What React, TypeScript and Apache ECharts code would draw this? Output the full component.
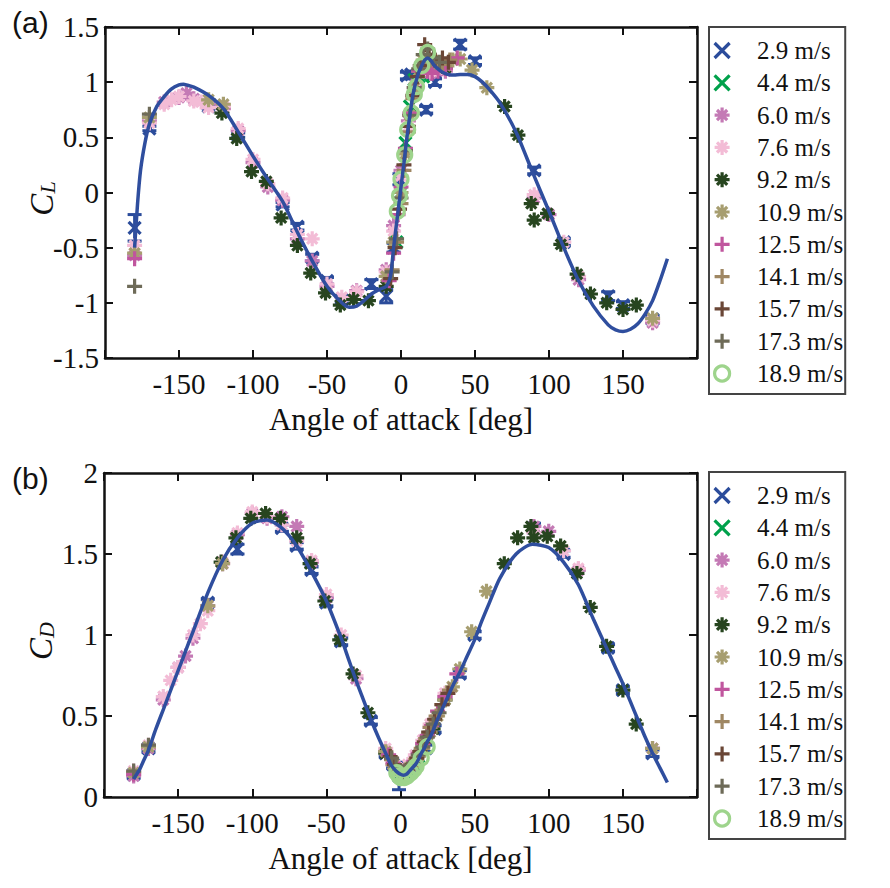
import React, { useEffect, useRef } from 'react';
import * as echarts from 'echarts';

// ---------- categories / legend ----------
const speeds = ['2.9 m/s', '4.4 m/s', '6.0 m/s', '7.6 m/s', '9.2 m/s', '10.9 m/s', '12.5 m/s', '14.1 m/s', '15.7 m/s', '17.3 m/s', '18.9 m/s'];
const colors = ['#2B4C9B', '#00A14B', '#C47AB5', '#F3BCD6', '#27451F', '#A79E70', '#C0569E', '#9F8763', '#6A4636', '#6E6B58', '#9ED48C'];
const SYM_X = 'path://M0,0L10,10M10,0L0,10';
const SYM_AST = 'path://M5,0L5,10M0,5L10,5M1.6,1.6L8.4,8.4M8.4,1.6L1.6,8.4';
const SYM_PLUS = 'path://M5,0L5,10M0,5L10,5';
const symbols = [SYM_X, SYM_X, SYM_AST, SYM_AST, SYM_AST, SYM_AST, SYM_PLUS, SYM_PLUS, SYM_PLUS, SYM_PLUS, 'circle'];

// ---------- tick labels ----------
const xTicks = [-150, -100, -50, 0, 50, 100, 150];
const clTicks = [-1.5, -1, -0.5, 0, 0.5, 1, 1.5];
const cdTicks = [0, 0.5, 1, 1.5, 2];

// ---------- data: 2.9 m/s ----------
const aoa29 = [-180, -170, -130, -110, -80, -70, -60, -50, -40, -20, -10, -5, -1, 4, 7, 17, 23, 40, 50, 90, 110, 140, 150, 170];
const cl29 = [-0.32, 0.58, 0.78, 0.52, -0.11, -0.31, -0.59, -0.8, -0.97, -0.83, -0.94, -0.5, 0.12, 1.06, 1.07, 0.75, 1.0, 1.34, 1.19, 0.2, -0.45, -0.94, -1.02, -1.15];
const cl29Err = [0.12, 0.02, 0.02, 0.02, 0.02, 0.03, 0.03, 0.03, 0.03, 0.04, 0.06, 0.04, 0.05, 0.03, 0.03, 0.03, 0.03, 0.04, 0.03, 0.03, 0.03, 0.04, 0.03, 0.03];
const cd29 = [0.14, 0.3, 1.2, 1.53, 1.66, 1.55, 1.4, 1.2, 0.96, 0.47, 0.27, 0.2, 0.13, 0.16, 0.17, 0.3, 0.42, 0.76, 1.0, 1.66, 1.5, 0.92, 0.66, 0.27];
const cd29Err = [0.02, 0.02, 0.02, 0.03, 0.02, 0.02, 0.02, 0.02, 0.02, 0.02, 0.02, 0.02, 0.085, 0.02, 0.02, 0.02, 0.02, 0.02, 0.02, 0.03, 0.02, 0.02, 0.02, 0.02];

// ---------- 4.4 m/s ----------
const aoa44 = [-3, 0, 3, 6, 9, 12, 15];
const cl44 = [-0.45, 0.0, 0.45, 0.78, 1.02, 1.05, 1.05];
const cd44 = [0.16, 0.14, 0.15, 0.17, 0.2, 0.25, 0.3];

// ---------- 6.0 m/s ----------
const aoa60 = [-180, -170, -160, -150, -145, -140, -130, -120, -110, -100, -90, -80, -70, -60, -50, -30, -10, -5, 0, 5, 10, 15, 20, 30, 90, 100, 120, 170];
const cl60 = [-0.57, 0.65, 0.82, 0.86, 0.9, 0.85, 0.8, 0.76, 0.56, 0.27, 0.05, -0.07, -0.42, -0.62, -0.85, -0.89, -0.7, -0.3, 0.2, 0.65, 0.98, 1.12, 1.08, 1.1, -0.05, -0.2, -0.79, -1.18];
const cd60 = [0.13, 0.3, 0.6, 0.8, 0.87, 0.98, 1.18, 1.44, 1.62, 1.75, 1.72, 1.73, 1.67, 1.45, 1.23, 0.73, 0.28, 0.2, 0.16, 0.18, 0.24, 0.33, 0.43, 0.62, 1.67, 1.64, 1.4, 0.3];

// ---------- 7.6 m/s ----------
const aoa76 = [-180, -170, -160, -155, -150, -140, -135, -130, -120, -110, -100, -90, -80, -70, -60, -50, -40, -30, -10, -5, 0, 5, 10, 15, 20, 30, 90, 110, 120, 170];
const cl76 = [-0.48, 0.63, 0.8, 0.84, 0.87, 0.83, 0.82, 0.77, 0.78, 0.58, 0.3, 0.08, -0.05, -0.38, -0.42, -0.83, -0.95, -0.9, -0.72, -0.35, 0.15, 0.6, 0.95, 1.1, 1.1, 1.12, -0.02, -0.45, -0.76, -1.16];
const cd76 = [0.16, 0.32, 0.62, 0.72, 0.8, 1.0, 1.07, 1.15, 1.45, 1.63, 1.76, 1.73, 1.68, 1.58, 1.46, 1.25, 1.0, 0.75, 0.3, 0.22, 0.17, 0.2, 0.26, 0.35, 0.45, 0.64, 1.63, 1.52, 1.41, 0.3];

// ---------- 9.2 m/s ----------
const aoa92 = [-121, -111, -101, -91, -81, -70, -61, -51, -41, -32, -22, -10, 22, 30, 70, 79, 88, 90, 99, 108, 119, 128, 139, 150, 159];
const cl92 = [0.72, 0.49, 0.19, 0.1, -0.23, -0.48, -0.73, -0.91, -1.02, -0.97, -0.98, -0.85, 1.15, 1.13, 0.78, 0.52, -0.1, -0.25, -0.19, -0.47, -0.74, -0.92, -1.0, -1.06, -1.02];
const cd92 = [1.45, 1.6, 1.72, 1.75, 1.72, 1.6, 1.44, 1.21, 0.97, 0.76, 0.52, 0.27, 0.42, 0.6, 1.44, 1.6, 1.67, 1.6, 1.61, 1.55, 1.38, 1.17, 0.93, 0.66, 0.45];

// ---------- 10.9 m/s ----------
const aoa109 = [-180, -170, -130, -120, -10, -5, 0, 3, 6, 9, 12, 15, 20, 25, 30, 35, 40, 48, 58, 170];
const cl109 = [-0.55, 0.68, 0.84, 0.8, -0.76, -0.45, 0.0, 0.35, 0.7, 0.95, 1.1, 1.2, 1.18, 1.15, 1.15, 1.2, 1.21, 1.11, 0.95, -1.14];
const cd109 = [0.15, 0.31, 1.18, 1.44, 0.28, 0.2, 0.16, 0.16, 0.18, 0.21, 0.25, 0.3, 0.4, 0.5, 0.6, 0.68, 0.79, 1.02, 1.27, 0.3];

// ---------- 12.5 m/s ----------
const aoa125 = [-180, -8, -5, -2, 0, 3, 6, 9, 12, 15, 18, 21, 25, 30, 38];
const cl125 = [-0.6, -0.8, -0.55, -0.2, 0.05, 0.4, 0.72, 0.95, 1.1, 1.12, 1.1, 1.08, 1.1, 1.12, 1.22];
const cd125 = [0.14, 0.26, 0.21, 0.17, 0.15, 0.16, 0.18, 0.22, 0.27, 0.33, 0.38, 0.44, 0.53, 0.62, 0.76];

// ---------- 14.1 m/s ----------
const aoa141 = [-6, -3, 0, 2, 5, 8, 11, 14, 17, 20, 24, 28, 33];
const cl141 = [-0.7, -0.45, -0.1, 0.2, 0.55, 0.85, 1.05, 1.15, 1.2, 1.2, 1.18, 1.16, 1.2];
const cd141 = [0.23, 0.19, 0.16, 0.15, 0.17, 0.2, 0.24, 0.3, 0.36, 0.43, 0.5, 0.57, 0.66];

// ---------- 15.7 m/s ----------
const aoa157 = [-7, -4, -1, 2, 5, 8, 11, 13, 16, 19, 23, 28, 32];
const cl157 = [-0.78, -0.5, -0.15, 0.25, 0.6, 0.88, 1.05, 1.15, 1.34, 1.25, 1.2, 1.22, 1.18];
const cd157 = [0.25, 0.2, 0.16, 0.15, 0.17, 0.2, 0.24, 0.28, 0.34, 0.4, 0.48, 0.57, 0.64];

// ---------- 17.3 m/s ----------
const aoa173 = [-180, -170, -6, -3, 0, 3, 6, 9, 12, 15, 18, 22, 26];
const cl173 = [-0.85, 0.71, -0.72, -0.42, -0.05, 0.38, 0.7, 0.95, 1.12, 1.25, 1.3, 1.22, 1.18];
const cd173 = [0.16, 0.32, 0.24, 0.19, 0.16, 0.16, 0.18, 0.21, 0.26, 0.31, 0.37, 0.45, 0.52];

// ---------- 18.9 m/s ----------
const aoa189 = [-2.5, -1, 0, 2.5, 4.5, 7, 9, 10.5, 14, 18];
const cl189 = [-0.17, -0.03, 0.12, 0.34, 0.57, 0.72, 0.89, 0.96, 1.15, 1.27];
const cd189 = [0.15, 0.13, 0.12, 0.12, 0.13, 0.15, 0.17, 0.19, 0.24, 0.31];

// ---------- fitted curve ----------
const fitAoa = [-180, -178, -176, -173, -170, -165, -160, -155, -150, -147,
  -145, -140, -130, -120, -110, -100, -90, -80, -70, -60,
  -50, -40, -35, -30, -25, -20, -15, -10, -7, -5,
  -3, 0, 2, 4, 6, 8, 10, 12, 14, 16,
  18, 20, 22, 25, 28, 32, 36, 40, 45, 50,
  55, 60, 67, 78, 89, 100, 110, 120, 130, 140,
  145, 150, 155, 160, 165, 170, 175, 180];
const fitCL = [-0.5, -0.1, 0.2, 0.45, 0.62, 0.78, 0.87, 0.94, 0.975, 0.98,
  0.975, 0.955, 0.88, 0.76, 0.55, 0.33, 0.12, -0.08, -0.36, -0.62,
  -0.85, -1.0, -1.04, -1.03, -0.98, -0.92, -0.88, -0.85, -0.75, -0.5,
  -0.28, 0.05, 0.27, 0.5, 0.7, 0.88, 1.0, 1.09, 1.15, 1.2,
  1.22, 1.2, 1.16, 1.12, 1.09, 1.07, 1.065, 1.07, 1.07, 1.05,
  1.0, 0.93, 0.81, 0.54, 0.18, -0.17, -0.5, -0.8, -1.03, -1.2,
  -1.245, -1.26, -1.24, -1.19, -1.1, -0.98, -0.8, -0.6];
const fitCD = [0.11, 0.14, 0.17, 0.23, 0.29, 0.42, 0.54, 0.66, 0.78, 0.85,
  0.9, 1.02, 1.26, 1.46, 1.6, 1.69, 1.71, 1.66, 1.55, 1.39,
  1.21, 0.98, 0.85, 0.72, 0.6, 0.48, 0.37, 0.27, 0.21, 0.18,
  0.16, 0.14, 0.135, 0.14, 0.16, 0.18, 0.2, 0.23, 0.27, 0.3,
  0.34, 0.37, 0.41, 0.48, 0.54, 0.62, 0.7, 0.77, 0.87, 0.97,
  1.09, 1.2, 1.35, 1.5, 1.56, 1.54, 1.45, 1.31, 1.1, 0.9,
  0.8, 0.7, 0.59, 0.48, 0.37, 0.27, 0.18, 0.09];

const seriesAoa = [aoa29, aoa44, aoa60, aoa76, aoa92, aoa109, aoa125, aoa141, aoa157, aoa173, aoa189];
const seriesCL = [cl29, cl44, cl60, cl76, cl92, cl109, cl125, cl141, cl157, cl173, cl189];
const seriesCD = [cd29, cd44, cd60, cd76, cd92, cd109, cd125, cd141, cd157, cd173, cd189];

const SERIF = 'Liberation Serif';
const SANS = 'Liberation Sans';
const INK = '#111';
const FIT_BLUE = '#2F4E9E';
const markerSizes = [12, 12, 15, 15, 15, 15, 15, 15, 15, 15, 14];
const yNames = ['{c|C}{s|L}', '{c|C}{s|D}'];

function buildOption() {
  const grids = [
    { left: 105, top: 27, width: 592, height: 331 },
    { left: 104, top: 473, width: 593, height: 324 },
  ];
  const xAxis: any[] = [];
  const yAxis: any[] = [];
  const yRanges = [[-1.5, 1.5], [0, 2]];
  const yTickSets = [clTicks, cdTicks];
  const axisLine = { show: true, onZero: false, lineStyle: { color: INK, width: 2.5 } };
  const axisTick = { show: true, inside: true, length: 8, lineStyle: { color: INK, width: 2 } };
  [0, 1].forEach((g) => {
    xAxis.push({
      gridIndex: g, type: 'value', min: -200, max: 200, interval: 50, position: 'bottom',
      axisLine, axisTick, splitLine: { show: false }, axisLabel: { show: false },
      name: 'Angle of attack [deg]', nameLocation: 'middle', nameGap: 46,
      nameTextStyle: { fontSize: 31, fontFamily: SERIF, color: INK },
    });
    xAxis.push({
      gridIndex: g, type: 'value', min: -200, max: 200, interval: 50, position: 'top',
      axisLine, axisTick, splitLine: { show: false }, axisLabel: { show: false },
    });
    yAxis.push({
      gridIndex: g, type: 'value', min: yRanges[g][0], max: yRanges[g][1], interval: 0.5, position: 'left',
      axisLine, axisTick, splitLine: { show: false }, axisLabel: { show: false },
      name: yNames[g], nameLocation: 'middle', nameRotate: 90, nameGap: 47,
      nameTextStyle: {
        color: INK, padding: [0, 12, 0, 0],
        rich: {
          c: { fontFamily: SERIF, fontStyle: 'italic', fontSize: 33, color: INK, verticalAlign: 'bottom', lineHeight: 34 },
          s: { fontFamily: SERIF, fontStyle: 'italic', fontSize: 22, color: INK, verticalAlign: 'bottom', lineHeight: 30 },
        },
      },
    });
    yAxis.push({
      gridIndex: g, type: 'value', min: yRanges[g][0], max: yRanges[g][1], interval: 0.5, position: 'right',
      axisLine, axisTick, splitLine: { show: false }, axisLabel: { show: false },
    });
  });

  const series: any[] = [];
  const valueSets = [seriesCL, seriesCD];
  const errSets = [cl29Err, cd29Err];
  [0, 1].forEach((g) => {
    // tick labels placed through the axis scales
    series.push({
      type: 'custom', name: 'xticks' + g, xAxisIndex: g * 2, yAxisIndex: g * 2, silent: true, clip: false,
      encode: { x: 0, y: 1 },
      data: xTicks.map((v) => [v, yRanges[g][0]]),
      renderItem: (params: any, api: any) => {
        const p = api.coord([api.value(0), api.value(1)]);
        return {
          type: 'text', x: p[0], y: p[1] + 11,
          style: { text: String(api.value(0)), fontFamily: SERIF, fontSize: 29, fill: INK, align: 'center', verticalAlign: 'top' },
        };
      },
    });
    series.push({
      type: 'custom', name: 'yticks' + g, xAxisIndex: g * 2, yAxisIndex: g * 2, silent: true, clip: false,
      encode: { x: 0, y: 1 },
      data: yTickSets[g].map((v) => [-200, v]),
      renderItem: (params: any, api: any) => {
        const p = api.coord([api.value(0), api.value(1)]);
        return {
          type: 'text', x: p[0] - 6, y: p[1],
          style: { text: String(api.value(1)), fontFamily: SERIF, fontSize: 29, fill: INK, align: 'right', verticalAlign: 'middle' },
        };
      },
    });
    speeds.forEach((name, i) => {
      series.push({
        type: 'scatter', name, xAxisIndex: g * 2, yAxisIndex: g * 2, silent: true,
        symbol: symbols[i], symbolSize: markerSizes[i],
        itemStyle: { color: 'rgba(0,0,0,0)', borderColor: colors[i], borderWidth: 3.2, opacity: 1 },
        data: seriesAoa[i].map((a, k) => [a, valueSets[g][i][k]]),
      });
      if (i === 0) {
        const vals = valueSets[g][0];
        const errs = errSets[g];
        series.push({
          type: 'custom', name: 'err' + g, xAxisIndex: g * 2, yAxisIndex: g * 2, silent: true,
          encode: { x: 0, y: 1 },
          data: aoa29.map((a, k) => [a, vals[k], errs[k]]),
          renderItem: (params: any, api: any) => {
            const x = api.value(0), y = api.value(1), e = api.value(2);
            const p1 = api.coord([x, y + e]);
            const p2 = api.coord([x, y - e]);
            const w = 7;
            const style = { stroke: colors[0], lineWidth: 3 };
            return {
              type: 'group', children: [
                { type: 'line', shape: { x1: p1[0], y1: p1[1], x2: p2[0], y2: p2[1] }, style },
                { type: 'line', shape: { x1: p1[0] - w, y1: p1[1], x2: p1[0] + w, y2: p1[1] }, style },
                { type: 'line', shape: { x1: p2[0] - w, y1: p2[1], x2: p2[0] + w, y2: p2[1] }, style },
              ],
            };
          },
        });
      }
    });
    series.push({
      type: 'line', name: 'fit' + g, xAxisIndex: g * 2, yAxisIndex: g * 2, silent: true,
      showSymbol: false, symbol: 'none', smooth: 0.25, z: 5,
      lineStyle: { color: FIT_BLUE, width: 3.5 },
      data: fitAoa.map((a, k) => [a, g === 0 ? fitCL[k] : fitCD[k]]),
    });
  });

  const legendData = speeds.map((name, i) => ({
    name, icon: symbols[i],
    itemStyle: { color: 'rgba(0,0,0,0)', borderColor: colors[i], borderWidth: 3.2 },
  }));
  const legendBase = {
    orient: 'vertical', left: 709, padding: [11, 2, 8, 4], itemWidth: 60, itemHeight: 15, itemGap: 7.3,
    borderColor: '#444', borderWidth: 2, selectedMode: false, symbolKeepAspect: true,
    textStyle: { fontFamily: SERIF, fontSize: 25, lineHeight: 24, color: INK },
    data: legendData,
  };

  const panelTitle = { fontFamily: SANS, fontSize: 30, fontWeight: 'normal', color: INK };

  return {
    animation: false,
    backgroundColor: '#fff',
    grid: grids,
    xAxis, yAxis, series,
    legend: [{ ...legendBase, top: 27 }, { ...legendBase, top: 472 }],
    title: [
      { text: '(a)', left: 7, top: 2, padding: 5, textStyle: panelTitle },
      { text: '(b)', left: 7, top: 458, padding: 5, textStyle: panelTitle },
    ],
  };
}

export default function App() {
  const ref = useRef<HTMLDivElement>(null);
  useEffect(() => {
    if (!ref.current) return;
    const chart = echarts.init(ref.current, null, { renderer: 'svg' });
    chart.setOption(buildOption() as any);
    return () => chart.dispose();
  }, []);
  return <div ref={ref} style={{ position: 'fixed', left: 0, top: 0, width: 890, height: 888, background: '#fff' }} />;
}
